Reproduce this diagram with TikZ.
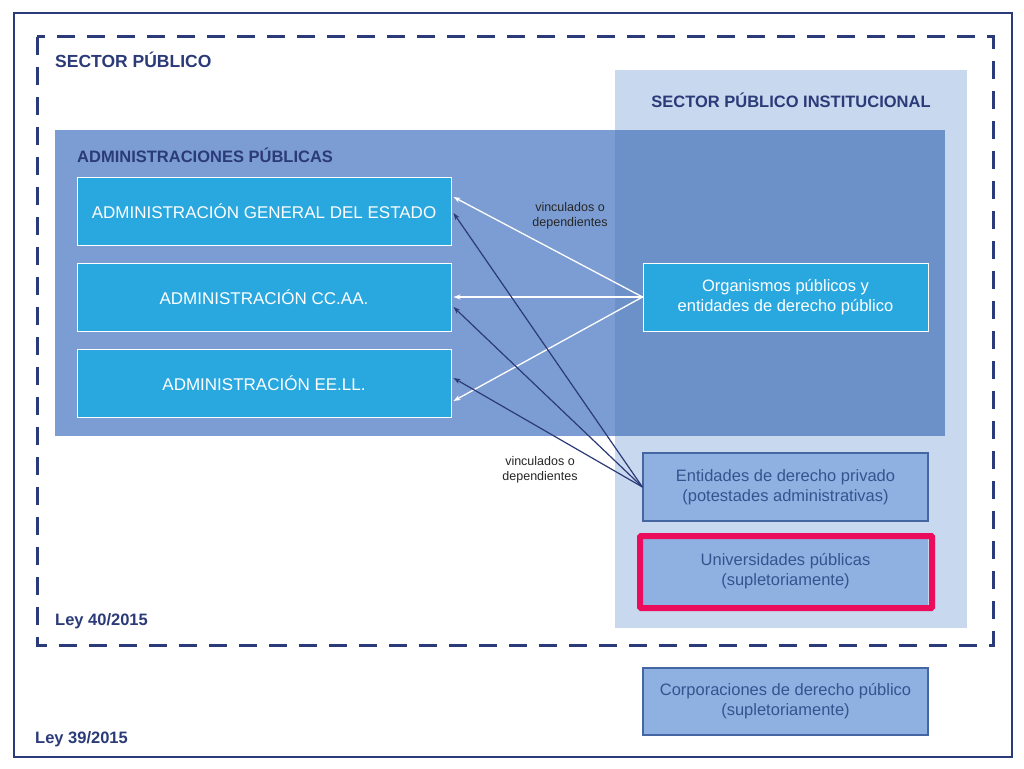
\documentclass[tikz,border=0pt]{standalone}
\usepackage{fontspec}
\setmainfont{Liberation Sans}
\usetikzlibrary{arrows.meta}
\definecolor{navy}{HTML}{2B3A78}
\definecolor{lightinst}{HTML}{C8D8EE}
\definecolor{adminA}{HTML}{7C9DD3}
\definecolor{adminB}{HTML}{6C91C8}
\definecolor{cyanbox}{HTML}{29A8E0}
\definecolor{palebox}{HTML}{8EB1E1}
\definecolor{paleborder}{HTML}{4466A3}
\definecolor{paletext}{HTML}{34548F}
\definecolor{magentab}{HTML}{EC0C5C}
\tikzset{
  cyanstyle/.style={draw=white, line width=1pt, fill=cyanbox, text=white, font=\fontsize{17}{20}\selectfont, align=center, inner sep=0pt},
  palestyle/.style={draw=paleborder, line width=1.2pt, fill=palebox, text=paletext, font=\fontsize{16.5}{20}\selectfont, align=center, inner sep=0pt, minimum width=285pt},
  headtext/.style={text=navy, font=\bfseries\fontsize{16.5}{19}\selectfont, inner sep=0pt, anchor=west},
  smalllabel/.style={text=black!85, font=\fontsize{12.5}{15}\selectfont, align=center, inner sep=0pt},
  whitearrow/.style={draw=white, line width=1.3pt, -{Stealth[length=7pt,width=5pt]}},
  navyarrow/.style={draw=navy, line width=1.2pt, -{Stealth[length=7pt,width=5pt]}}
}
\begin{document}
\begin{tikzpicture}[x=1pt,y=-1pt]
\useasboundingbox (0,0) rectangle (1024,768);
\fill[white] (0,0) rectangle (1024,768);
% outer frame
\draw[navy, line width=2.5pt] (14,13) rectangle (1012,757);
% dashed frame
\draw[navy, line width=3pt, dash pattern=on 18pt off 12pt] (37,37) rectangle (993,645);
% institutional area
\fill[lightinst] (615,70) rectangle (967,628);
% administraciones publicas
\fill[adminA] (55,130) rectangle (945,436);
\fill[adminB] (615,130) rectangle (945,436);
% headings
\node[headtext, font=\bfseries\fontsize{17.5}{20}\selectfont] (hsp) at (55,60) {SECTOR PÚBLICO};
\node[headtext, anchor=center] (hspi) at (791,100) {SECTOR PÚBLICO INSTITUCIONAL};
\node[headtext] (hap) at (77,155) {ADMINISTRACIONES PÚBLICAS};
\node[headtext] (l40) at (55,621) {Ley 40/2015};
\node[headtext] (l39) at (35,739) {Ley 39/2015};
% admin boxes
\node[cyanstyle, minimum width=374pt, minimum height=68pt] (age) at (264,211) {ADMINISTRACIÓN GENERAL DEL ESTADO};
\node[cyanstyle, minimum width=374pt, minimum height=68pt] (ccaa) at (264,297) {ADMINISTRACIÓN CC.AA.};
\node[cyanstyle, minimum width=374pt, minimum height=68pt] (eell) at (264,383) {ADMINISTRACIÓN EE.LL.};
% institutional boxes
\node[cyanstyle, minimum width=285pt, minimum height=68pt, font=\fontsize{16.5}{20}\selectfont] (org) at (785.5,297) {Organismos públicos y\\entidades de derecho público};
\node[palestyle, minimum height=68pt] (ent) at (785.5,487) {Entidades de derecho privado\\(potestades administrativas)};
\node[palestyle, draw=none, minimum height=69pt] (univ) at (785.5,571.5) {Universidades públicas\\(supletoriamente)};
\draw[magentab, line width=6pt, rounded corners=1pt] (640,536) rectangle (932,608);
\node[palestyle, minimum height=67pt] (corp) at (785.5,701.5) {Corporaciones de derecho público\\(supletoriamente)};
% arrows
\draw[whitearrow] (org.west) -- ([yshift=14pt,xshift=2pt]age.east);
\draw[whitearrow] (org.west) -- ([xshift=2pt]ccaa.east);
\draw[whitearrow] (org.west) -- ([yshift=-18pt,xshift=2pt]eell.east);
\draw[navyarrow] (ent.west) -- ([yshift=-2pt,xshift=2pt]age.east);
\draw[navyarrow] (ent.west) -- ([yshift=-10pt,xshift=2pt]ccaa.east);
\draw[navyarrow] (ent.west) -- ([yshift=5pt,xshift=2pt]eell.east);
% labels
\node[smalllabel] (lab1) at (570,216) {vinculados o\\dependientes};
\node[smalllabel] (lab2) at (540,470) {vinculados o\\dependientes};
\end{tikzpicture}
\end{document}
